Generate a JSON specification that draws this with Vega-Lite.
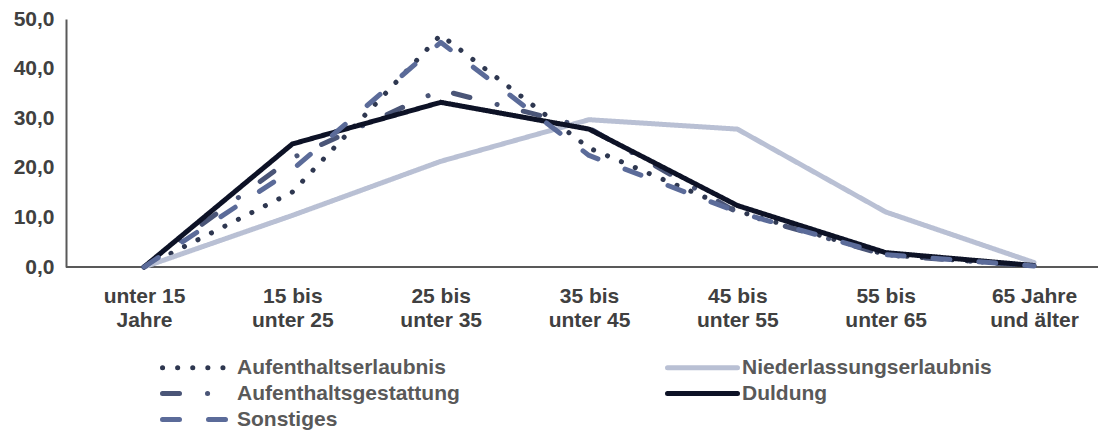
{
  "$schema": "https://vega.github.io/schema/vega-lite/v6.json",
  "width": 1032,
  "height": 248,
  "autosize": {"type": "none"},
  "padding": {"left": 66, "top": 19, "right": 0, "bottom": 165},
  "background": "white",
  "config": {
    "view": {"stroke": null},
    "font": "Liberation Sans"
  },
  "data": {
    "values": [
      {"Alter": "unter 15|Jahre", "Status": "Aufenthaltserlaubnis", "Wert": 0},
      {"Alter": "15 bis|unter 25", "Status": "Aufenthaltserlaubnis", "Wert": 15.1},
      {"Alter": "25 bis|unter 35", "Status": "Aufenthaltserlaubnis", "Wert": 46.8},
      {"Alter": "35 bis|unter 45", "Status": "Aufenthaltserlaubnis", "Wert": 24.0},
      {"Alter": "45 bis|unter 55", "Status": "Aufenthaltserlaubnis", "Wert": 11.3},
      {"Alter": "55 bis|unter 65", "Status": "Aufenthaltserlaubnis", "Wert": 2.5},
      {"Alter": "65 Jahre|und älter", "Status": "Aufenthaltserlaubnis", "Wert": 0.2},
      {"Alter": "unter 15|Jahre", "Status": "Niederlassungserlaubnis", "Wert": 0},
      {"Alter": "15 bis|unter 25", "Status": "Niederlassungserlaubnis", "Wert": 10.4},
      {"Alter": "25 bis|unter 35", "Status": "Niederlassungserlaubnis", "Wert": 21.3},
      {"Alter": "35 bis|unter 45", "Status": "Niederlassungserlaubnis", "Wert": 29.7},
      {"Alter": "45 bis|unter 55", "Status": "Niederlassungserlaubnis", "Wert": 27.8},
      {"Alter": "55 bis|unter 65", "Status": "Niederlassungserlaubnis", "Wert": 11.1},
      {"Alter": "65 Jahre|und älter", "Status": "Niederlassungserlaubnis", "Wert": 0.9},
      {"Alter": "unter 15|Jahre", "Status": "Aufenthaltsgestattung", "Wert": 0},
      {"Alter": "15 bis|unter 25", "Status": "Aufenthaltsgestattung", "Wert": 22.0},
      {"Alter": "25 bis|unter 35", "Status": "Aufenthaltsgestattung", "Wert": 35.7},
      {"Alter": "35 bis|unter 45", "Status": "Aufenthaltsgestattung", "Wert": 28.0},
      {"Alter": "45 bis|unter 55", "Status": "Aufenthaltsgestattung", "Wert": 11.0},
      {"Alter": "55 bis|unter 65", "Status": "Aufenthaltsgestattung", "Wert": 2.4},
      {"Alter": "65 Jahre|und älter", "Status": "Aufenthaltsgestattung", "Wert": 0.2},
      {"Alter": "unter 15|Jahre", "Status": "Duldung", "Wert": 0},
      {"Alter": "15 bis|unter 25", "Status": "Duldung", "Wert": 24.8},
      {"Alter": "25 bis|unter 35", "Status": "Duldung", "Wert": 33.2},
      {"Alter": "35 bis|unter 45", "Status": "Duldung", "Wert": 27.8},
      {"Alter": "45 bis|unter 55", "Status": "Duldung", "Wert": 12.4},
      {"Alter": "55 bis|unter 65", "Status": "Duldung", "Wert": 2.9},
      {"Alter": "65 Jahre|und älter", "Status": "Duldung", "Wert": 0.3},
      {"Alter": "unter 15|Jahre", "Status": "Sonstiges", "Wert": 0},
      {"Alter": "15 bis|unter 25", "Status": "Sonstiges", "Wert": 19.6},
      {"Alter": "25 bis|unter 35", "Status": "Sonstiges", "Wert": 45.3},
      {"Alter": "35 bis|unter 45", "Status": "Sonstiges", "Wert": 22.5},
      {"Alter": "45 bis|unter 55", "Status": "Sonstiges", "Wert": 11.1},
      {"Alter": "55 bis|unter 65", "Status": "Sonstiges", "Wert": 2.5},
      {"Alter": "65 Jahre|und älter", "Status": "Sonstiges", "Wert": 0.2}
    ]
  },
  "layer": [
    {
      "mark": {"type": "rule", "color": "#595959", "strokeWidth": 2},
      "encoding": {"y": {"datum": 0, "type": "quantitative"}}
    },
    {
      "mark": {"type": "line", "strokeWidth": 5, "strokeCap": "round", "strokeJoin": "round"},
      "encoding": {
        "x": {
          "field": "Alter",
          "type": "nominal",
          "sort": null,
          "scale": {"type": "point", "range": [78, 968], "padding": 0},
          "axis": {
            "title": null,
            "domain": false,
            "ticks": false,
            "labelAngle": 0,
            "labelPadding": 18,
            "labelExpr": "split(datum.label, '|')",
            "labelFont": "Liberation Sans",
            "labelFontSize": 21,
            "labelFontWeight": "bold",
            "labelColor": "#404040",
            "labelLineHeight": 24
          }
        },
        "y": {
          "field": "Wert",
          "type": "quantitative",
          "scale": {"domain": [0, 50], "nice": false},
          "axis": {
            "title": null,
            "values": [0, 10, 20, 30, 40, 50],
            "grid": false,
            "ticks": false,
            "domain": true,
            "domainColor": "#595959",
            "domainWidth": 2,
            "labelPadding": 12,
            "labelExpr": "replace(format(datum.value, '.1f'), '.', ',')",
            "labelFont": "Liberation Sans",
            "labelFontSize": 21,
            "labelFontWeight": "bold",
            "labelColor": "#404040"
          }
        },
        "color": {
          "field": "Status",
          "type": "nominal",
          "sort": null,
          "scale": {
            "domain": ["Aufenthaltserlaubnis", "Niederlassungserlaubnis", "Aufenthaltsgestattung", "Duldung", "Sonstiges"],
            "range": ["#2e3750", "#b9c0d4", "#4a5577", "#0d1226", "#5b6b99"]
          },
          "legend": {
            "title": null,
            "orient": "none",
            "legendX": 119,
            "legendY": 336,
            "columns": 2,
            "direction": "horizontal",
            "columnPadding": 197,
            "rowPadding": 3,
            "padding": 0,
            "symbolType": "M-3.5,0L3.5,0",
            "symbolSize": 400,
            "symbolStrokeWidth": 5,
            "labelOffset": 27,
            "labelFont": "Liberation Sans",
            "labelFontSize": 21,
            "labelFontWeight": "bold",
            "labelColor": "#595959",
            "labelLimit": 400,
            "encode": {"symbols": {"update": {"strokeCap": {"value": "round"}}}}
          }
        },
        "strokeDash": {
          "field": "Status",
          "type": "nominal",
          "sort": null,
          "scale": {
            "domain": ["Aufenthaltserlaubnis", "Niederlassungserlaubnis", "Aufenthaltsgestattung", "Duldung", "Sonstiges"],
            "range": [[0.1, 15], [1, 0], [17, 28, 0.1, 27], [1, 0], [17, 29]]
          },
          "legend": {
            "title": null,
            "orient": "none",
            "legendX": 119,
            "legendY": 336,
            "columns": 2,
            "direction": "horizontal",
            "columnPadding": 197,
            "rowPadding": 3,
            "padding": 0,
            "symbolType": "M-3.5,0L3.5,0",
            "symbolSize": 400,
            "symbolStrokeWidth": 5,
            "labelOffset": 27,
            "labelFont": "Liberation Sans",
            "labelFontSize": 21,
            "labelFontWeight": "bold",
            "labelColor": "#595959",
            "labelLimit": 400,
            "encode": {"symbols": {"update": {"strokeCap": {"value": "round"}}}}
          }
        }
      }
    }
  ]
}
